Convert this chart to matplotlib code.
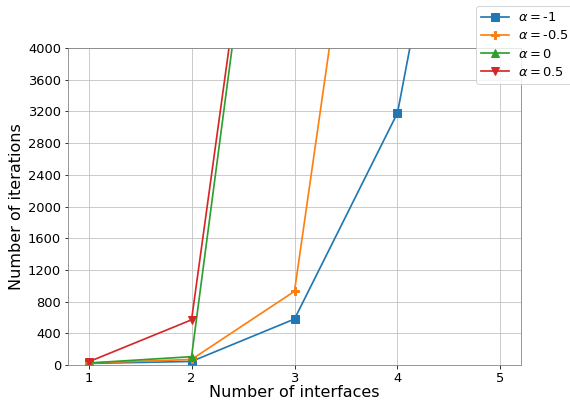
import numpy as np
import matplotlib
matplotlib.use("Agg")
import matplotlib.pyplot as plt

# number of interfaces on the x axis
interfaces = [1, 2, 3, 4, 5]

# iterations for each alpha (runs that hit the cap go off the top of the plot)
iters_m1 = [20, 45, 580, 3180, 10000]
iters_m05 = [25, 70, 930, 10000, 10000]
iters_0 = [25, 105, 10000, 10000, 10000]
iters_05 = [40, 570, 10000, 10000, 10000]

alpha_labels = ['-1', '-0.5', '0', '0.5']

fig = plt.figure(figsize=(570 / 72, 405 / 72), dpi=72)
ax = fig.add_axes([68 / 570, 40 / 405, 453 / 570, 317 / 405])

kw = dict(markersize=8, linewidth=1.7)
ax.plot(interfaces, iters_m1, marker='s', color='tab:blue',
        label=r'$\alpha=$' + alpha_labels[0], **kw)
ax.plot(interfaces, iters_m05, marker='P', color='tab:orange',
        label=r'$\alpha=$' + alpha_labels[1], **kw)
ax.plot(interfaces, iters_0, marker='^', color='tab:green',
        label=r'$\alpha=$' + alpha_labels[2], **kw)
ax.plot(interfaces, iters_05, marker='v', color='tab:red',
        label=r'$\alpha=$' + alpha_labels[3], **kw)

ax.set_xlim(0.8, 5.2)
ax.set_ylim(0, 4000)
ax.set_xticks(interfaces)
ax.set_yticks(np.arange(0, 4001, 400))
ax.tick_params(labelsize=13)
ax.grid(True, color='#c0c0c0')
for s in ax.spines.values():
    s.set_color('#808080')

ax.set_xlabel('Number of interfaces', fontsize=16, labelpad=0)
ax.set_ylabel('Number of iterations', fontsize=16)

fig.legend(loc='upper left', bbox_to_anchor=(476 / 570, 1 - 6 / 405),
           fontsize=13, labelspacing=0.4, handlelength=2.15,
           handletextpad=0.7, borderaxespad=0)

fig.savefig('out.png', dpi=72)
